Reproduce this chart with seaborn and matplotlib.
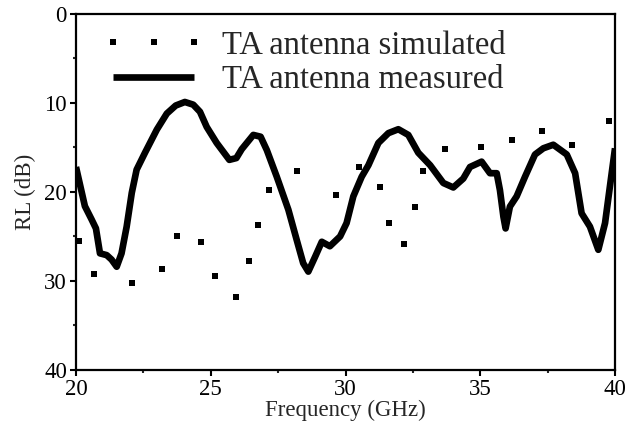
import matplotlib
matplotlib.use("Agg")
import matplotlib.pyplot as plt
from matplotlib.ticker import MultipleLocator
import seaborn as sns
import pandas as pd

# simulated return loss (dotted curve, read dot by dot)
sim_freq = [20.12, 20.68, 22.07, 23.20, 23.74, 24.65, 25.16, 25.95, 26.43, 26.76,
            27.16, 28.21, 29.65, 30.51, 31.28, 31.61, 32.18, 32.58, 32.89, 33.69,
            35.03, 36.19, 37.29, 38.42, 39.79]
sim_rl = [25.5, 29.2, 30.2, 28.7, 24.9, 25.6, 29.4, 31.8, 27.8, 23.7,
          19.8, 17.7, 20.3, 17.2, 19.4, 23.5, 25.8, 21.7, 17.7, 15.2,
          15.0, 14.2, 13.2, 14.7, 12.0]

# measured return loss (solid curve)
meas_freq = [20.0, 20.33, 20.58, 20.74, 20.89, 21.14, 21.32, 21.51, 21.69, 21.88,
             22.07, 22.25, 22.56, 23.0, 23.37, 23.7, 24.04, 24.35, 24.6, 24.85,
             25.22, 25.69, 25.95, 26.15, 26.58, 26.85, 27.08, 27.45, 27.88, 28.19,
             28.43, 28.62, 28.87, 29.12, 29.42, 29.8, 30.04, 30.29, 30.6, 30.85,
             31.22, 31.59, 31.96, 32.33, 32.7, 33.14, 33.63, 34.0, 34.37, 34.62,
             35.05, 35.36, 35.61, 35.73, 35.86, 35.94, 36.1, 36.35, 36.66, 37.03,
             37.34, 37.71, 38.21, 38.52, 38.76, 39.07, 39.38, 39.63, 39.81, 40.0]
meas_rl = [17.2, 21.6, 23.1, 24.1, 26.9, 27.1, 27.6, 28.4, 26.9, 23.9,
           20.1, 17.5, 15.6, 13.0, 11.2, 10.3, 9.9, 10.2, 11.0, 12.7,
           14.5, 16.4, 16.2, 15.2, 13.6, 13.8, 15.3, 18.3, 22.0, 25.4,
           28.0, 28.95, 27.3, 25.6, 26.1, 25.0, 23.5, 20.5, 18.3, 17.0,
           14.5, 13.4, 12.96, 13.6, 15.6, 17.0, 19.0, 19.5, 18.5, 17.2,
           16.6, 17.9, 17.9, 19.8, 22.8, 24.1, 21.65, 20.5, 18.3, 15.8,
           15.1, 14.7, 15.8, 17.9, 22.4, 23.9, 26.5, 23.5, 19.4, 15.1]

sim = pd.DataFrame({"f": sim_freq, "rl": sim_rl})
meas = pd.DataFrame({"f": meas_freq, "rl": meas_rl})

sns.set_style("ticks")
plt.rcParams["font.family"] = ["Liberation Serif", "DejaVu Serif"]

fig = plt.figure(figsize=(6.44, 4.32), dpi=100)
ax = fig.add_axes([0.118, 0.1435, 0.837, 0.8245])

sns.lineplot(data=sim, x="f", y="rl", ax=ax, linestyle="", marker="s",
             markersize=4.4, color="black", markeredgewidth=0,
             label="TA antenna simulated")
sns.lineplot(data=meas, x="f", y="rl", ax=ax, color="black", linewidth=4.8,
             solid_joinstyle="round", solid_capstyle="butt",
             label="TA antenna measured")

ax.set_xlim(20, 40)
ax.set_ylim(40, 0)
ax.xaxis.set_major_locator(MultipleLocator(5))
ax.xaxis.set_minor_locator(MultipleLocator(2.5))
ax.yaxis.set_major_locator(MultipleLocator(10))
ax.yaxis.set_minor_locator(MultipleLocator(5))
ax.tick_params(which="major", direction="out", length=4.5, width=1.5,
               labelsize=16.5, pad=2, color="black", labelcolor="black")
ax.tick_params(which="minor", direction="out", length=2.5, width=1.5)
for s in ax.spines.values():
    s.set_linewidth(1.6)
    s.set_color("black")

ax.set_xlabel("Frequency (GHz)", fontsize=16.5, labelpad=0)
ax.set_ylabel("RL (dB)", fontsize=16.5, labelpad=6)

ax.legend(loc="upper left", frameon=False, fontsize=23.5, numpoints=3,
          handlelength=3.1, handletextpad=0.55, labelspacing=0.12,
          borderaxespad=0.1, bbox_to_anchor=(0.02, 1.0))

fig.savefig("out.png", dpi=100)
